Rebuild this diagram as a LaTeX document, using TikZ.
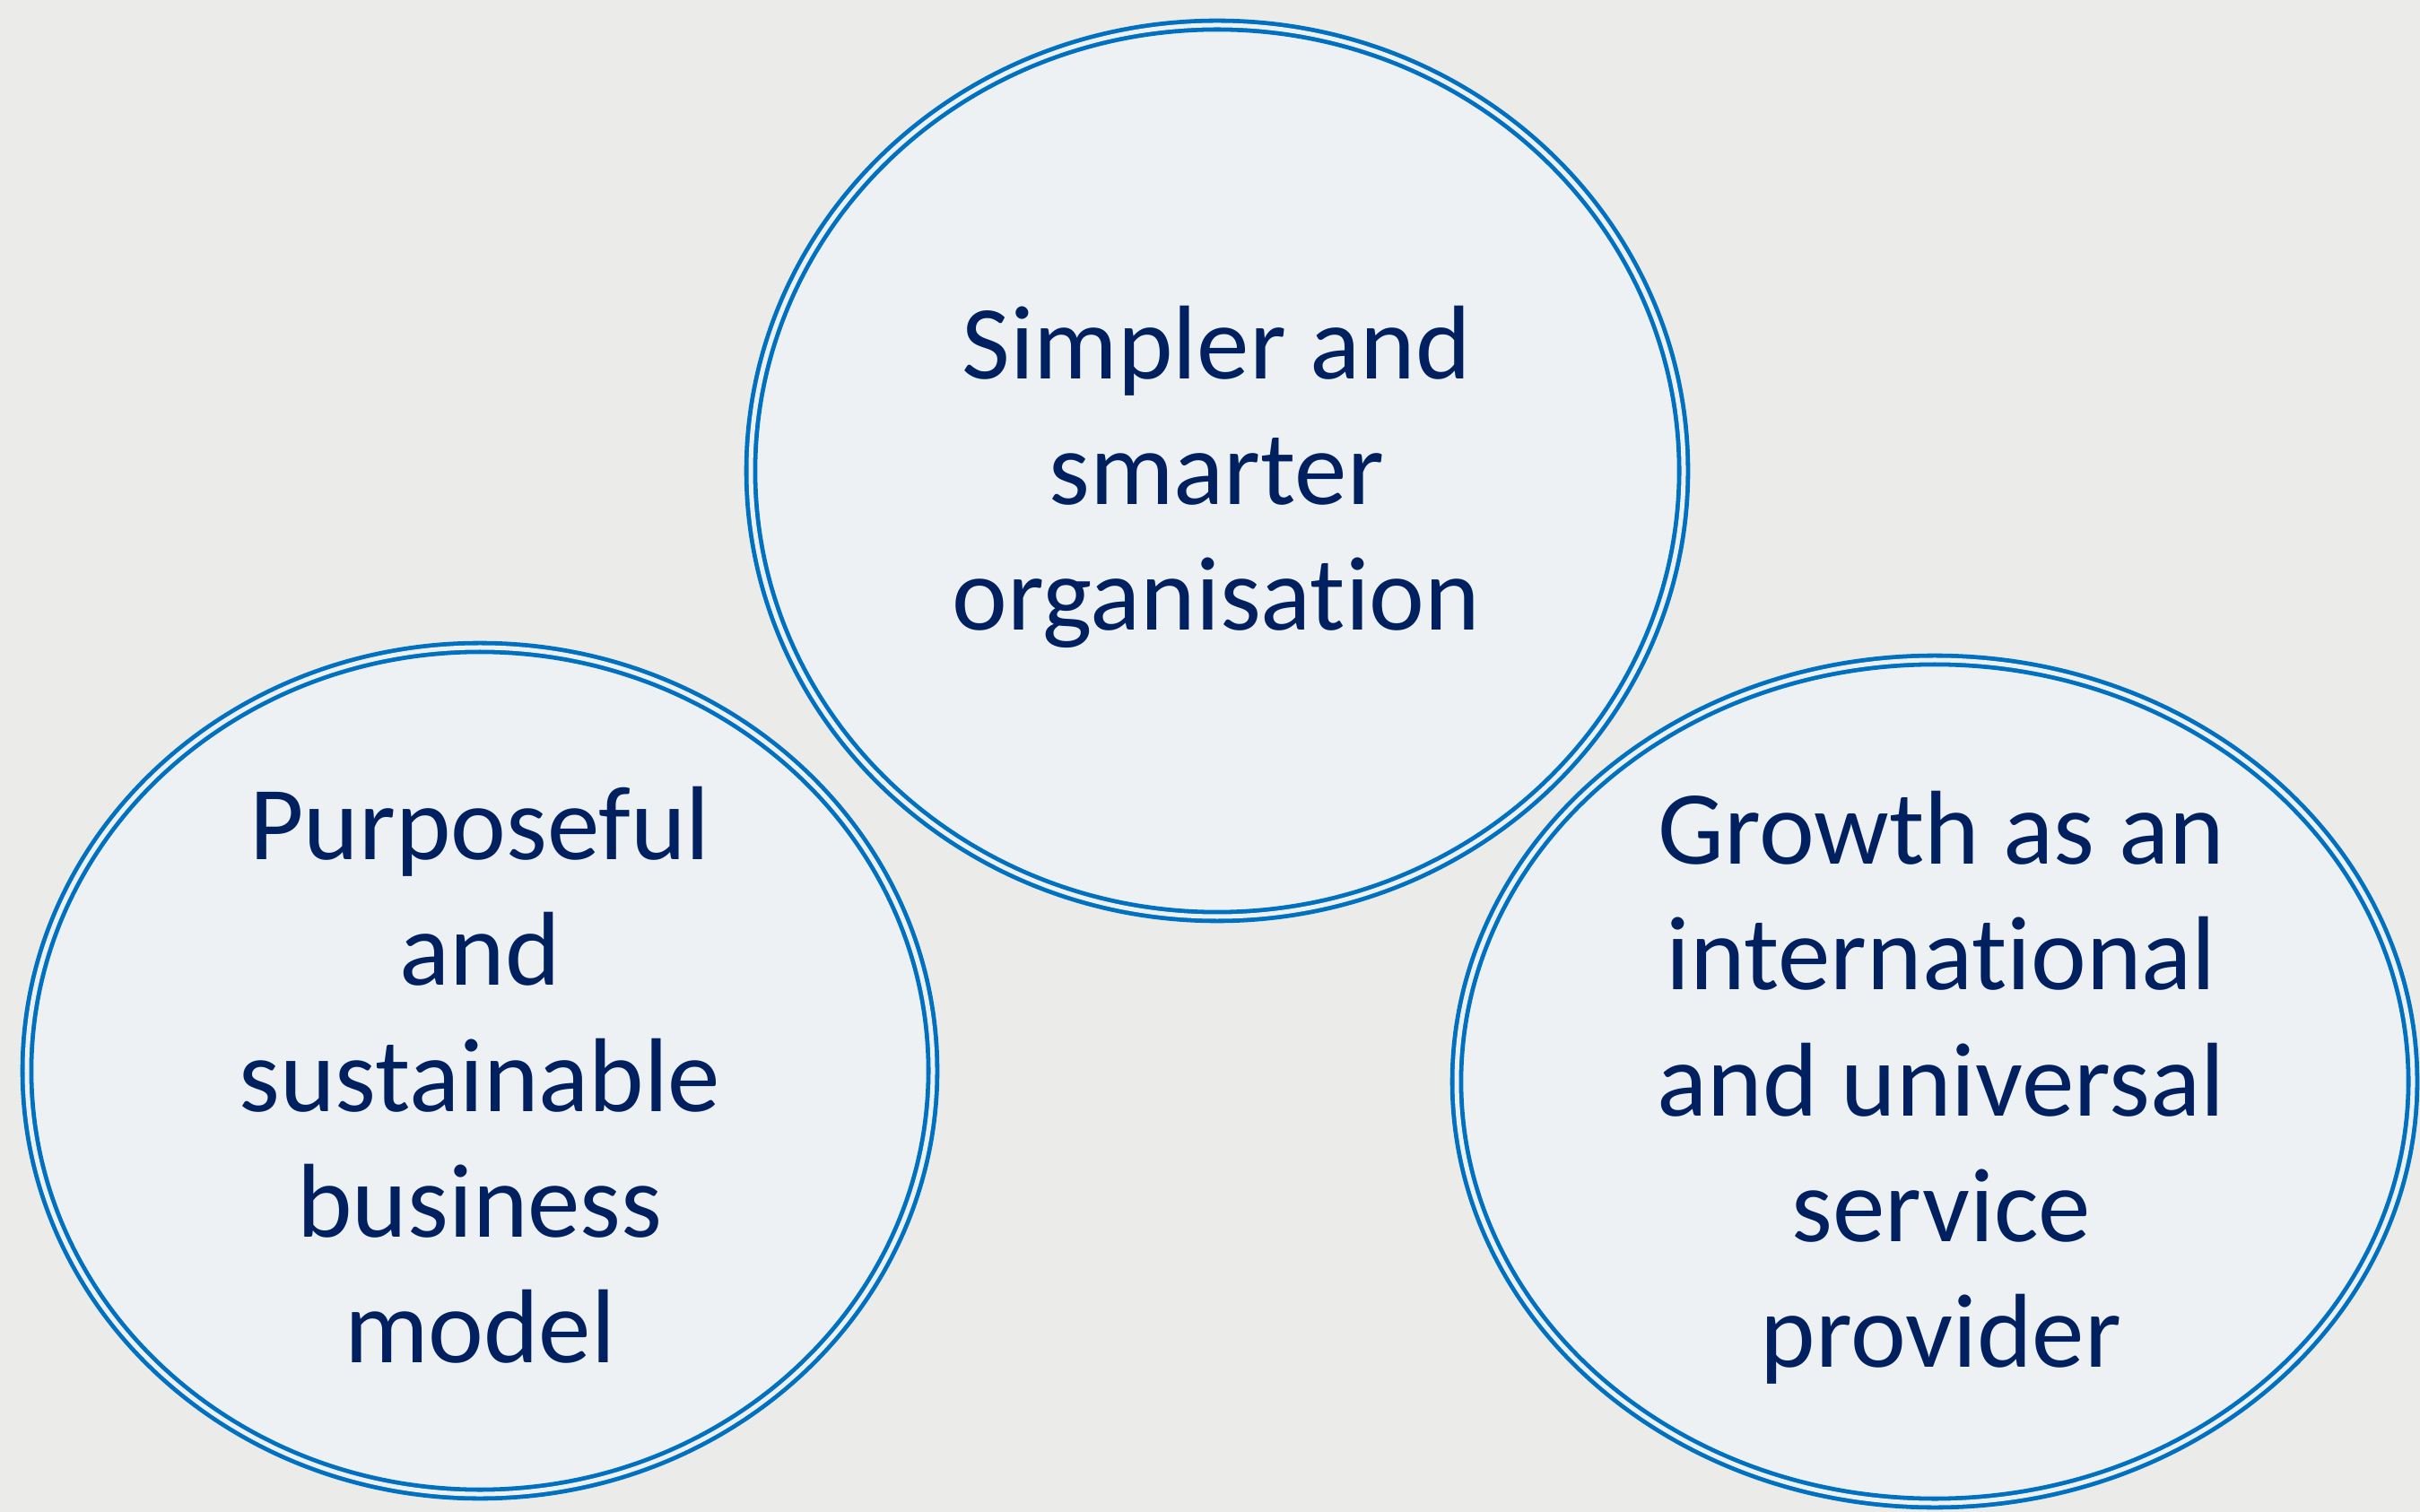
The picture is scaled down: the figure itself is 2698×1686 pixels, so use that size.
\documentclass[tikz,border=0pt]{standalone}
\usepackage{fontspec}
\setmainfont[Ligatures=NoCommon]{Carlito}
\definecolor{paper}{HTML}{EBEBE9}
\definecolor{disc}{HTML}{EDF1F3}
\definecolor{rim}{HTML}{0070C0}
\definecolor{ink}{HTML}{002060}
\begin{document}
\begin{tikzpicture}[x=0.01cm,y=-0.01cm,
  disk/.style={draw=rim, fill=disc, double=disc, line width=0.048cm, double distance=0.05cm},
  caption/.style={text=ink, align=center, inner sep=0pt, font=\fontsize{33.3}{39.9}\selectfont}]
  % page
  \fill[paper] (0,0) rectangle (2698,1686);
  \useasboundingbox (0,0) rectangle (2698,1686);

  % centres of the three discs
  \coordinate (ctop)   at (1357,525);
  \coordinate (cleft)  at (535,1194);
  \coordinate (cright) at (2157,1206);

  % discs with a double blue rim
  \draw[disk] (ctop)   ellipse [x radius=520, y radius=497];
  \draw[disk] (cleft)  ellipse [x radius=505, y radius=472];
  \draw[disk] (cright) ellipse [x radius=533, y radius=470];

  % captions
  \node[caption] (ttop)   at (1356,532)  {Simpler and\\smarter\\organisation};
  \node[caption] (tleft)  at (535,1199)  {Purposeful\\and\\sustainable\\business\\model};
  \node[caption] (tright) at (2164,1213) {Growth as an\\international\\and universal\\service\\provider};
\end{tikzpicture}
\end{document}
